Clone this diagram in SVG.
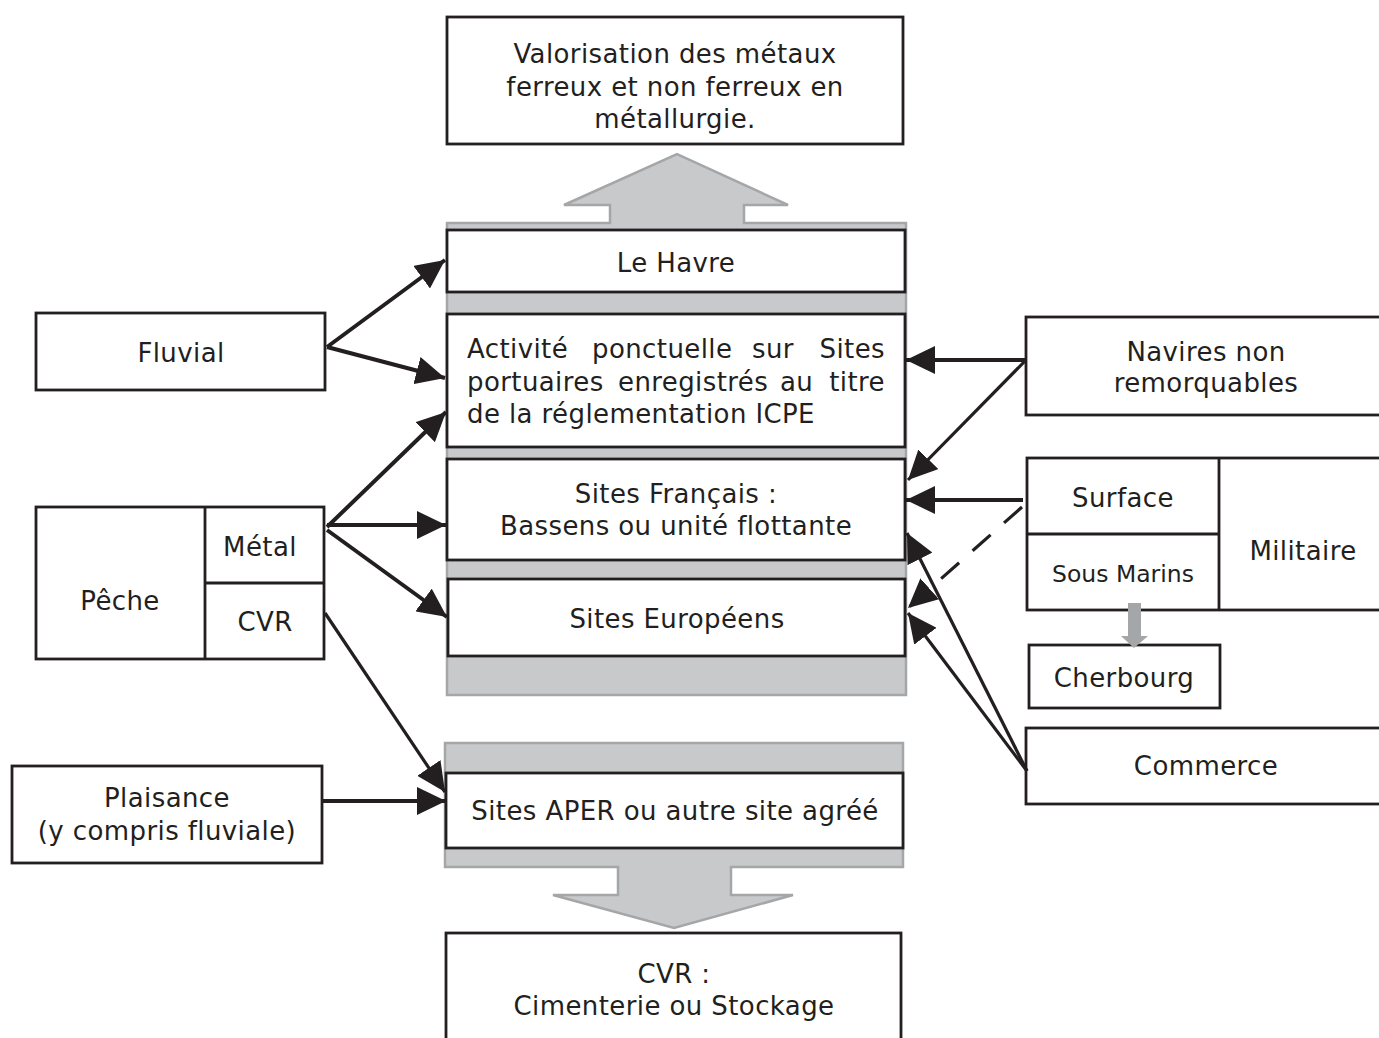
<svg xmlns="http://www.w3.org/2000/svg" width="1379" height="1038" viewBox="0 0 1379 1038">
  <style>
    .box { fill: #ffffff; stroke: #231f20; stroke-width: 2.8; }
    .div { fill: none; stroke: #231f20; stroke-width: 2.8; }
    .band { fill: #c8c9cb; stroke: #a5a6a8; stroke-width: 2.5; stroke-linejoin: miter; }
    .t { font-family: "DejaVu Sans", Verdana, sans-serif; font-size: 26px; letter-spacing: 0.4px; fill: #231f20; text-anchor: middle; }
    .tl { font-family: "DejaVu Sans", Verdana, sans-serif; font-size: 26px; letter-spacing: 0.4px; fill: #231f20; }
    .ts { font-family: "DejaVu Sans", Verdana, sans-serif; font-size: 23.5px; fill: #231f20; text-anchor: middle; }
    .c { fill: none; stroke: #231f20; stroke-width: 4; marker-end: url(#ah); }
    .c3 { fill: none; stroke: #231f20; stroke-width: 3.2; marker-end: url(#ah); }
    .dash { stroke-dasharray: 24 18; }
  </style>
  <defs>
    <marker id="ah" markerUnits="userSpaceOnUse" markerWidth="30" markerHeight="28" refX="29" refY="14" orient="auto">
      <path d="M0,0 L29,14 L0,28 z" fill="#231f20"/>
    </marker>
  </defs>

  <rect width="1379" height="1038" fill="#ffffff"/>

  <!-- grey band carrying the port sites, with the upward flow arrow -->
  <path id="band-up" class="band" d="M447,695 L447,223 L610,223 L610,205 L564,205 L677,154 L788,205 L744,205 L744,223 L906,223 L906,695 Z"/>
  <!-- grey band for APER sites, with the downward flow arrow -->
  <path id="band-down" class="band" d="M445,743 L903,743 L903,867 L731,867 L731,895 L793,895 L674,928 L553,895 L618,895 L618,867 L445,867 Z"/>

  <!-- outcome: metals -->
  <g id="valorisation">
    <rect class="box" x="447" y="17" width="456" height="127"/>
    <text class="t" x="675" y="63">Valorisation des métaux</text>
    <text class="t" x="675" y="96">ferreux et non ferreux en</text>
    <text class="t" x="675" y="128">métallurgie.</text>
  </g>

  <g id="le-havre">
    <rect class="box" x="447" y="230" width="458" height="62"/>
    <text class="t" x="676" y="272">Le Havre</text>
  </g>

  <g id="icpe">
    <rect class="box" x="447" y="314" width="458" height="133"/>
    <text class="tl" y="358"><tspan x="467">Activité</tspan><tspan x="592">ponctuelle</tspan><tspan x="752">sur</tspan><tspan x="885" text-anchor="end">Sites</tspan></text>
    <text class="tl" y="391"><tspan x="467">portuaires</tspan><tspan x="618">enregistrés</tspan><tspan x="780">au</tspan><tspan x="885" text-anchor="end">titre</tspan></text>
    <text class="tl" x="467" y="423">de la réglementation ICPE</text>
  </g>

  <g id="sites-francais">
    <rect class="box" x="447" y="459" width="458" height="101"/>
    <text class="t" x="676" y="503">Sites Français :</text>
    <text class="t" x="676" y="535">Bassens ou unité flottante</text>
  </g>

  <g id="sites-europeens">
    <rect class="box" x="448" y="579" width="457" height="77"/>
    <text class="t" x="677" y="628">Sites Européens</text>
  </g>

  <g id="sites-aper">
    <rect class="box" x="446" y="773" width="457" height="75"/>
    <text class="t" x="675" y="820">Sites APER ou autre site agréé</text>
  </g>

  <!-- outcome: non-metal residues -->
  <g id="cvr-final">
    <rect class="box" x="446" y="933" width="455" height="120"/>
    <text class="t" x="674" y="983">CVR :</text>
    <text class="t" x="674" y="1015">Cimenterie ou Stockage</text>
  </g>

  <!-- sources, left side -->
  <g id="fluvial">
    <rect class="box" x="36" y="313" width="289" height="77"/>
    <text class="t" x="181" y="362">Fluvial</text>
  </g>

  <g id="peche">
    <rect class="box" x="36" y="507" width="288" height="152"/>
    <path class="div" d="M205,507 V659 M205,583 H324"/>
    <text class="t" x="120" y="610">Pêche</text>
    <text class="t" x="260" y="556">Métal</text>
    <text class="t" x="265" y="631">CVR</text>
  </g>

  <g id="plaisance">
    <rect class="box" x="12" y="766" width="310" height="97"/>
    <text class="t" x="167" y="807">Plaisance</text>
    <text class="t" x="167" y="840">(y compris fluviale)</text>
  </g>

  <!-- sources, right side -->
  <g id="navires">
    <rect class="box" x="1026" y="317" width="370" height="98"/>
    <text class="t" x="1206" y="361">Navires non</text>
    <text class="t" x="1206" y="392">remorquables</text>
  </g>

  <g id="militaire">
    <rect class="box" x="1027" y="458" width="370" height="152"/>
    <path class="div" d="M1219,458 V610 M1027,534 H1219"/>
    <text class="t" x="1123" y="507">Surface</text>
    <text class="ts" x="1123" y="582">Sous Marins</text>
    <text class="t" x="1303" y="560">Militaire</text>
  </g>

  <g id="cherbourg">
    <rect class="box" x="1029" y="645" width="191" height="63"/>
    <text class="t" x="1124" y="687">Cherbourg</text>
  </g>

  <g id="commerce">
    <rect class="box" x="1026" y="728" width="370" height="76"/>
    <text class="t" x="1206" y="775">Commerce</text>
  </g>

  <g id="connectors">
    <path class="c" d="M327,347 L445,260"/>
    <path class="c" d="M327,347 L445,378"/>
    <path class="c" d="M327,527 L446,412"/>
    <path class="c" d="M327,525 L446,525"/>
    <path class="c" d="M327,530 L447,617"/>
    <path class="c3" d="M325,613 L445,792"/>
    <path class="c" d="M323,801 L446,801"/>
    <path class="c" d="M1026,360 L906,360"/>
    <path class="c3" d="M1026,360 L908,480"/>
    <path class="c" d="M1023,500 L906,500"/>
    <path class="c3 dash" d="M1022,507 L908,608"/>
    <path class="c3" d="M1027,771 L907,533"/>
    <path class="c3" d="M1027,771 L908,613"/>
    <!-- submarines routed to Cherbourg -->
    <path d="M1128,603 H1141 V636 H1148 L1134,648 L1121,636 H1128 Z" fill="#a5a6a8"/>
  </g>
</svg>
